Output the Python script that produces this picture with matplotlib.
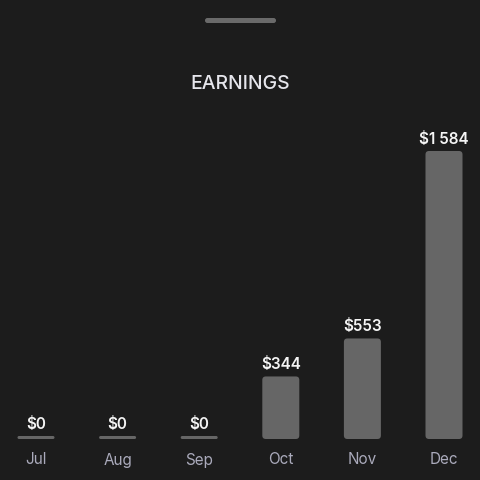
import matplotlib
matplotlib.use("Agg")
import matplotlib.pyplot as plt
from matplotlib.patches import FancyBboxPatch
from matplotlib.transforms import blended_transform_factory

months = ["Jul", "Aug", "Sep", "Oct", "Nov", "Dec"]
earnings = [0, 0, 0, 344, 553, 1584]
value_labels = ["$0", "$0", "$0", "$344", "$553", "$1 584"]

BG = "#1c1c1c"
BAR = "#666666"
plt.rcParams["font.family"] = ["Inter", "DejaVu Sans"]

W = H = 480
fig = plt.figure(figsize=(4.8, 4.8), dpi=100, facecolor=BG)

# axes: baseline at y=439px, top value at y=151px
bottom_px, top_px = 439, 151
ax = fig.add_axes([0, (H - bottom_px) / H, 1, (bottom_px - top_px) / H])
ax.set_facecolor(BG)
ax.set_axis_off()
spacing = 81.6
left_x = -36 / spacing
ax.set_xlim(left_x, left_x + W / spacing)
ax.set_ylim(0, max(earnings))

px_x = 1 / spacing                      # data x per pixel
px_y = max(earnings) / (bottom_px - top_px)  # data y per pixel
bar_w = 37 * px_x
min_h = 3 * px_y
radius_px = 3.5

for i, v in enumerate(earnings):
    h = max(v, min_h)
    r = 1.5 if v == 0 else radius_px
    patch = FancyBboxPatch((i - bar_w / 2, 0), bar_w, h,
                           boxstyle=f"round,pad=0,rounding_size={r * px_x}",
                           mutation_aspect=px_y / px_x,
                           facecolor=BAR, edgecolor="none")
    ax.add_patch(patch)
    ax.annotate(value_labels[i], (i, h), xytext=(0, 4), textcoords="offset pixels",
                ha="center", va="bottom", color="#f4f4f4", fontsize=11,
                fontweight="semibold", clip_on=False)

trans = blended_transform_factory(ax.transData, fig.transFigure)
for i, m in enumerate(months):
    fig.text(i, 1 - 460 / H, m, transform=trans, ha="center", va="center",
             color="#aaaabb", fontsize=11)

fig.text(0.5, 1 - 84 / H, "EARNINGS", ha="center", va="center",
         color="#e6e6ec", fontsize=14, fontweight="medium")

# drag handle
handle = FancyBboxPatch((205 / W, 1 - 23 / H), 71 / W, 5 / H,
                        boxstyle="round,pad=0,rounding_size=0.005",
                        transform=fig.transFigure, facecolor="#6a6a6a",
                        edgecolor="none", mutation_aspect=1)
fig.patches.append(handle)

fig.savefig("out.png", dpi=100, facecolor=BG)
